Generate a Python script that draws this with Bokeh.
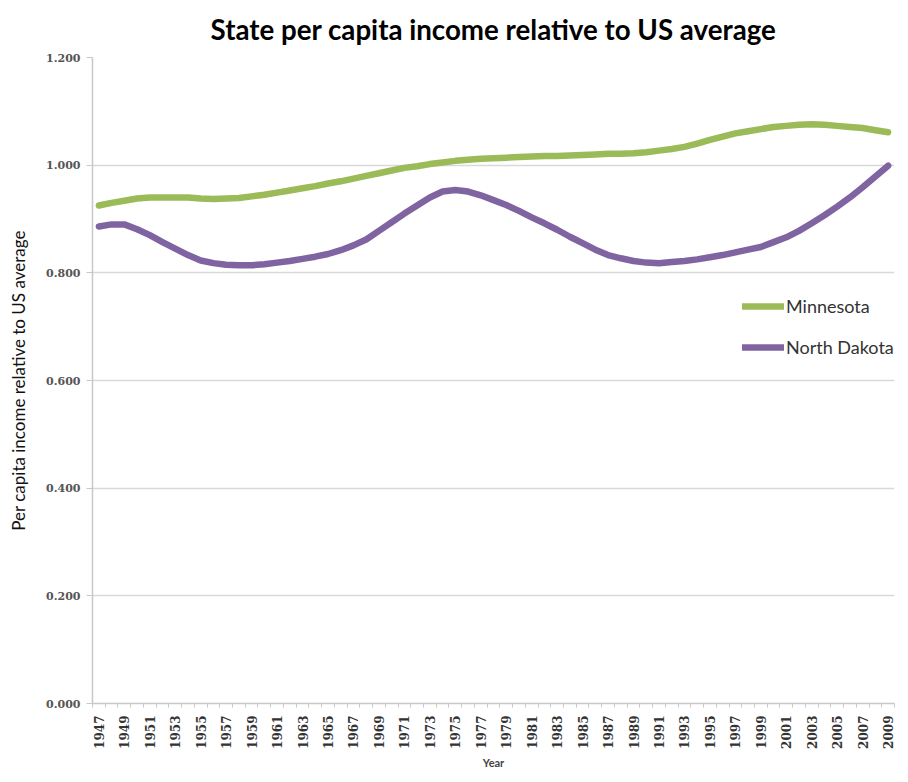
from math import pi
from bokeh.plotting import figure
from bokeh.models import (Range1d, FixedTicker, PrintfTickFormatter, Legend, LegendItem)
from bokeh.embed import file_html
from bokeh.resources import INLINE

years = list(range(1947, 2010))
minnesota = [
    0.925, 0.930, 0.934, 0.938, 0.940, 0.940, 0.940, 0.940, 0.938, 0.937,
    0.938, 0.939, 0.942, 0.945, 0.949, 0.953, 0.957, 0.961, 0.966, 0.970,
    0.975, 0.980, 0.985, 0.990, 0.995, 0.998, 1.002, 1.005, 1.008, 1.010,
    1.012, 1.013, 1.014, 1.015, 1.016, 1.017, 1.017, 1.018, 1.019, 1.020,
    1.021, 1.021, 1.022, 1.024, 1.027, 1.030, 1.034, 1.040, 1.047, 1.053,
    1.059, 1.063, 1.067, 1.071, 1.073, 1.075, 1.076, 1.075, 1.073, 1.071,
    1.069, 1.065, 1.061,
]
north_dakota = [
    0.886, 0.890, 0.890, 0.881, 0.870, 0.857, 0.845, 0.833, 0.823, 0.818,
    0.815, 0.814, 0.814, 0.816, 0.819, 0.822, 0.826, 0.830, 0.835, 0.842,
    0.851, 0.862, 0.878, 0.894, 0.910, 0.925, 0.940, 0.951, 0.954, 0.951,
    0.944, 0.935, 0.926, 0.915, 0.903, 0.892, 0.880, 0.867, 0.855, 0.843,
    0.833, 0.827, 0.822, 0.819, 0.818, 0.820, 0.822, 0.825, 0.829, 0.833,
    0.838, 0.843, 0.848, 0.857, 0.866, 0.878, 0.892, 0.907, 0.923, 0.940,
    0.959, 0.979, 0.999,
]
y_ticks = [0.0, 0.2, 0.4, 0.6, 0.8, 1.0, 1.2]
label_years = years[::2]
boundaries = [y - 0.5 for y in years] + [years[-1] + 0.5]

GREEN = "#9BBB59"
PURPLE = "#8064A2"

p = figure(width=900, height=774, output_backend="svg", toolbar_location=None,
           x_range=Range1d(years[0] - 0.5, years[-1] + 0.5),
           y_range=Range1d(y_ticks[0], y_ticks[-1]),
           min_border_left=92, min_border_right=6, min_border_top=57,
           min_border_bottom=71)
p.outline_line_color = None

p.title.text = "State per capita income relative to US average"
p.title.align = "center"
p.title.vertical_align = "top"
p.title.text_font = "Lato"
p.title.text_font_size = "27.7px"
p.title.text_font_style = "bold"
p.title.text_color = "#000000"
p.title.standoff = 20

r1 = p.line(years, minnesota, line_color=GREEN, line_width=6.5, line_cap="round", line_join="round")
r2 = p.line(years, north_dakota, line_color=PURPLE, line_width=6.5, line_cap="round", line_join="round")

# grids
p.xgrid.grid_line_color = None
p.ygrid.grid_line_color = "#D9D9D9"
p.ygrid.grid_line_width = 1.5

# y axis
p.yaxis.ticker = FixedTicker(ticks=y_ticks)
p.yaxis.formatter = PrintfTickFormatter(format="%.3f")
p.yaxis.axis_label = "Per capita income relative to US average"
p.yaxis.axis_label_text_font = "Lato"
p.yaxis.axis_label_text_font_size = "17px"
p.yaxis.axis_label_text_font_style = "normal"
p.yaxis.axis_label_text_color = "#111111"
p.yaxis.axis_label_standoff = 14
p.yaxis.major_label_text_font = "DejaVu Serif"
p.yaxis.major_label_text_font_size = "11px"
p.yaxis.major_label_text_font_style = "bold"
p.yaxis.major_label_text_color = "#555555"
p.yaxis.major_label_standoff = 6
p.yaxis.axis_line_color = "#C8C8C8"
p.yaxis.axis_line_width = 1.5
p.yaxis.major_tick_line_color = "#C8C8C8"
p.yaxis.major_tick_out = 6
p.yaxis.major_tick_in = 0
p.yaxis.minor_tick_line_color = None

# x axis
p.xaxis.ticker = FixedTicker(ticks=label_years, minor_ticks=boundaries)
p.xaxis.major_label_orientation = pi / 2
p.xaxis.major_label_text_font = "DejaVu Serif"
p.xaxis.major_label_text_font_size = "12px"
p.xaxis.major_label_text_font_style = "bold"
p.xaxis.major_label_text_color = "#333333"
p.xaxis.major_label_standoff = 8
p.xaxis.major_tick_out = 0
p.xaxis.major_tick_in = 0
p.xaxis.minor_tick_line_color = "#C8C8C8"
p.xaxis.minor_tick_out = 4
p.xaxis.minor_tick_in = 0
p.xaxis.axis_line_color = "#C8C8C8"
p.xaxis.axis_line_width = 1.5
p.xaxis.axis_label = "Year"
p.xaxis.axis_label_text_font = "Lato"
p.xaxis.axis_label_text_font_size = "11px"
p.xaxis.axis_label_text_font_style = "bold"
p.xaxis.axis_label_standoff = 4

legend = Legend(items=[LegendItem(label="Minnesota", renderers=[r1]),
                       LegendItem(label="North Dakota", renderers=[r2])],
                location=(650, 345), orientation="vertical",
                border_line_color=None, background_fill_alpha=0,
                padding=0, margin=0, spacing=19,
                glyph_width=42, glyph_height=20, label_height=20,
                label_standoff=2, label_text_font="Lato",
                label_text_font_size="18px", label_text_color="#333333")
p.add_layout(legend, "center")

open("out.html", "w").write(file_html(p, INLINE))
